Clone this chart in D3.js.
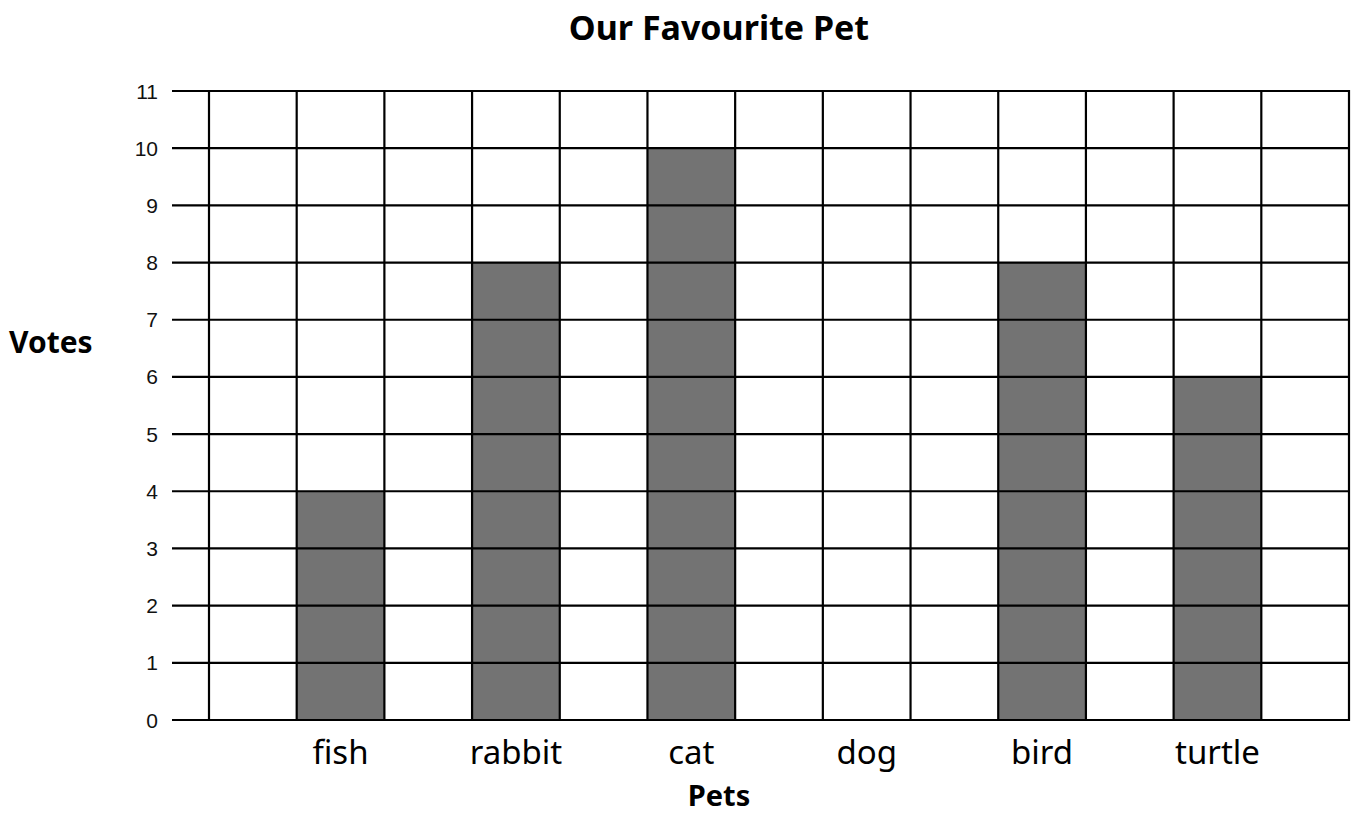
<!DOCTYPE html>
<html><head><meta charset="utf-8">
<script src="https://cdn.jsdelivr.net/npm/d3@7"></script>
<style>body{margin:0;background:#fff}svg{display:block}</style>
</head><body>
<script>
const categories = ["fish","rabbit","cat","dog","bird","turtle"];
const votes = [4, 8, 10, 0, 8, 6];
const yTicks = [0,1,2,3,4,5,6,7,8,9,10,11];
const title = "Our Favourite Pet";
const xTitle = "Pets";
const yTitle = "Votes";

(function(){
const W = 1352, H = 837;
const mLeft = 209, mRight = 1349, mTop = 91, mBottom = 720;
const nSlots = categories.length * 2 + 1;

const svg = d3.select("body").append("svg").attr("width", W).attr("height", H);
const x = d3.scaleBand().domain(d3.range(nSlots)).range([mLeft, mRight]).paddingInner(0).paddingOuter(0);
const y = d3.scaleLinear().domain([0, 11]).range([mBottom, mTop]);
const slotOf = i => 2 * i + 1;

// bars
svg.append("g").selectAll("rect").data(categories).join("rect")
  .attr("x", (d, i) => x(slotOf(i)))
  .attr("y", (d, i) => y(votes[i]))
  .attr("width", x.bandwidth())
  .attr("height", (d, i) => y(0) - y(votes[i]))
  .attr("fill", "#737373");

// horizontal grid lines
svg.append("g").selectAll("line").data(yTicks).join("line")
  .attr("x1", 172).attr("x2", mRight)
  .attr("y1", d => y(d)).attr("y2", d => y(d))
  .attr("stroke", "#000").attr("stroke-width", 2.2);

// vertical grid lines
const vx = d3.range(nSlots).map(s => x(s)).concat([mRight]);
svg.append("g").selectAll("line").data(vx).join("line")
  .attr("x1", d => d).attr("x2", d => d)
  .attr("y1", mTop - 1).attr("y2", mBottom + 1)
  .attr("stroke", "#000").attr("stroke-width", 2.2);

// y tick labels
svg.append("g").selectAll("text").data(yTicks).join("text")
  .attr("x", 158).attr("y", d => y(d) + 7.5)
  .attr("text-anchor", "end")
  .attr("font-family", "Liberation Sans, Arial, sans-serif")
  .attr("font-size", 21).attr("fill", "#111")
  .text(d => d);

// category labels
svg.append("g").selectAll("text").data(categories).join("text")
  .attr("x", (d, i) => x(slotOf(i)) + x.bandwidth() / 2)
  .attr("y", 764)
  .attr("text-anchor", "middle")
  .attr("font-family", "Noto Sans, sans-serif")
  .attr("font-size", 33).attr("fill", "#000")
  .text(d => d);

svg.append("text").attr("x", 719).attr("y", 40).attr("text-anchor", "middle")
  .attr("font-family", "Noto Sans, sans-serif").attr("font-weight", "bold").attr("font-size", 34)
  .text(title);
svg.append("text").attr("x", 719).attr("y", 806).attr("text-anchor", "middle")
  .attr("font-family", "Noto Sans, sans-serif").attr("font-weight", "bold").attr("font-size", 29)
  .text(xTitle);
svg.append("text").attr("x", 9).attr("y", 353).attr("text-anchor", "start")
  .attr("font-family", "Noto Sans, sans-serif").attr("font-weight", "bold").attr("font-size", 30)
  .text(yTitle);
})();
</script>
</body></html>
